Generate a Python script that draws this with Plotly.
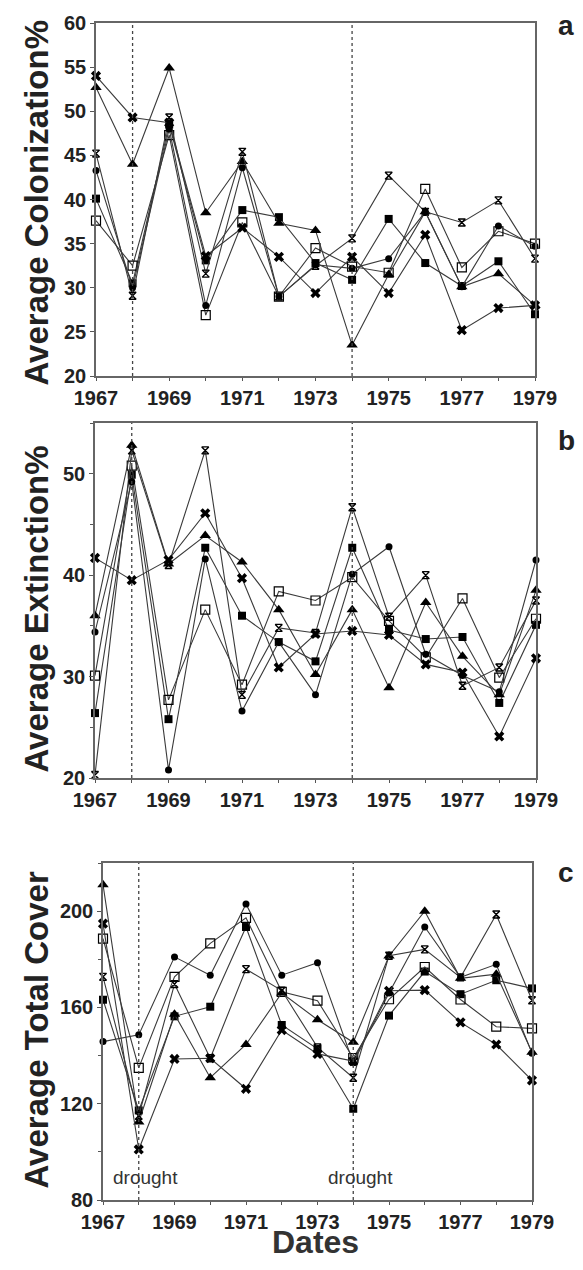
import plotly.graph_objects as go

years = list(range(1967, 1980))
series_names = ["filled square", "open square", "triangle", "asterisk", "bowtie", "circle"]

# Panel a: Average Colonization%
col_fsq = [40.1, 30.5, 48.5, 33.1, 38.8, 38.0, 32.8, 30.9, 37.8, 32.8, 30.2, 33.0, 27.0]
col_osq = [37.6, 32.5, 47.3, 26.9, 37.4, 29.0, 34.5, 32.4, 31.7, 41.2, 32.3, 36.4, 35.0]
col_tri = [52.7, 44.0, 54.9, 38.5, 44.3, 37.3, 36.5, 23.5, 31.5, 38.6, 30.1, 31.6, 28.0]
col_ast = [45.2, 29.1, 49.3, 31.6, 45.4, 29.0, 32.5, 35.6, 42.7, 38.6, 37.4, 39.9, 33.3]
col_bow = [54.0, 49.3, 48.7, 33.6, 36.8, 33.5, 29.4, 33.5, 29.4, 36.0, 25.2, 27.7, 28.0]
col_cir = [43.3, 30.0, 48.0, 28.0, 43.6, 29.0, 32.6, 32.2, 33.3, 38.6, 30.1, 37.0, 34.7]

# Panel b: Average Extinction%
ext_fsq = [26.4, 49.9, 25.8, 42.7, 36.0, 33.4, 31.5, 42.7, 34.6, 33.7, 33.9, 27.4, 35.1]
ext_osq = [30.1, 50.8, 27.7, 36.6, 29.2, 38.4, 37.5, 39.8, 35.5, 31.9, 37.7, 29.9, 35.7]
ext_tri = [36.0, 52.8, 41.1, 43.9, 41.3, 36.6, 30.2, 36.6, 28.9, 37.3, 32.0, 28.2, 38.5]
ext_ast = [20.3, 52.3, 41.0, 52.3, 28.2, 34.8, 34.3, 46.7, 35.9, 40.0, 29.1, 30.9, 37.5]
ext_bow = [41.7, 39.5, 41.5, 46.1, 39.7, 30.9, 34.2, 34.5, 34.1, 31.2, 30.4, 24.1, 31.8]
ext_cir = [34.4, 49.2, 20.8, 41.6, 26.6, 33.4, 28.2, 40.1, 42.8, 32.2, 30.1, 28.5, 41.5]

# Panel c: Average Total Cover
cov_fsq = [163.2, 117.2, 156.3, 160.3, 193.4, 152.7, 142.8, 117.9, 156.6, 174.9, 165.5, 171.3, 167.9]
cov_osq = [188.6, 134.9, 172.7, 186.6, 197.2, 166.5, 162.8, 139.0, 163.4, 176.8, 163.3, 152.0, 151.3]
cov_tri = [211.0, 112.4, 157.2, 130.8, 144.6, 166.0, 154.9, 145.5, 181.4, 200.0, 172.1, 173.8, 141.4]
cov_ast = [172.7, 115.0, 169.7, 138.9, 175.9, 167.0, 143.4, 130.8, 181.5, 184.1, 172.5, 198.6, 163.0]
cov_bow = [194.8, 101.0, 138.6, 138.9, 126.2, 150.6, 140.7, 137.7, 166.9, 167.2, 153.8, 144.6, 129.7]
cov_cir = [145.8, 148.6, 181.0, 173.4, 203.0, 173.4, 178.6, 137.0, 166.0, 193.4, 172.5, 177.9, 141.0]

drought_years = [1968, 1974]
x_ticktext = [str(y) if y % 2 == 1 else "" for y in years]

# page is 583x1270 with an 8px body margin; keep the page free of scrollbars
OFF = 8
W, H = 575, 1254
FONT = "Liberation Sans"
LINE = "#3a3a3a"


def fx(px):
    return (px - OFF) / W


def fy(py):
    return 1 - (py - OFF) / H


marker_styles = [
    dict(symbol="square", size=8, color="black"),
    dict(symbol="square-open", size=9, color="black", line=dict(width=1.2)),
    dict(symbol="triangle-up", size=10, color="black"),
    dict(symbol="hourglass-open", size=7, color="black", line=dict(width=1.4)),
    dict(symbol="x", size=9, color="black", line=dict(width=0)),
    dict(symbol="circle", size=7, color="black"),
]

panels = [
    dict(data=[col_fsq, col_osq, col_tri, col_ast, col_bow, col_cir],
         px=(96, 535), py=(23, 376), yr=[20, 60], tickvals=list(range(20, 61, 5)), minor=None,
         title="Average Colonization%", title_y=(13, 392), letter="a", letter_y=25),
    dict(data=[ext_fsq, ext_osq, ext_tri, ext_ast, ext_bow, ext_cir],
         px=(95, 536), py=(423, 778), yr=[20, 55], tickvals=[20, 30, 40, 50], minor=5,
         title="Average Extinction%", title_y=(437, 782), letter="b", letter_y=440),
    dict(data=[cov_fsq, cov_osq, cov_tri, cov_ast, cov_bow, cov_cir],
         px=(103, 532), py=(863, 1200), yr=[80, 220], tickvals=[80, 120, 160, 200], minor=20,
         title="Average Total Cover", title_y=(846, 1215), letter="c", letter_y=873),
]

fig = go.Figure()
layout = dict(width=W, height=H, margin=dict(l=0, r=0, t=0, b=0, autoexpand=False),
              paper_bgcolor="white", plot_bgcolor="white", showlegend=False)
annotations = []
shapes = []

for i, p in enumerate(panels):
    k = "" if i == 0 else str(i + 1)
    xa, ya = "x" + k, "y" + k
    for name, vals, ms in zip(series_names, p["data"], marker_styles):
        fig.add_trace(go.Scatter(x=years, y=vals, mode="lines+markers", name=name,
                                 line=dict(color=LINE, width=1.1), marker=ms,
                                 cliponaxis=False, xaxis=xa, yaxis=ya))
    xdom = [fx(p["px"][0]), fx(p["px"][1])]
    ydom = [fy(p["py"][1]), fy(p["py"][0])]
    layout["xaxis" + k] = dict(domain=xdom, anchor=ya, range=[1967, 1979], automargin=False,
                               tickvals=years, ticktext=x_ticktext, ticks="outside",
                               ticklen=3, tickcolor="#555", showline=True, linecolor="#666",
                               linewidth=1.5, mirror=True, showgrid=False, zeroline=False,
                               tickfont=dict(family=FONT, size=20, color="#222", weight="bold"))
    yax = dict(domain=ydom, anchor=xa, range=p["yr"], tickvals=p["tickvals"], automargin=False,
               ticks="outside", ticklen=4, tickcolor="#555", showline=True,
               linecolor="#666", linewidth=1.5, mirror=True, showgrid=False, zeroline=False,
               tickfont=dict(family=FONT, size=20, color="#222", weight="bold"))
    if p["minor"]:
        yax["minor"] = dict(dtick=p["minor"], ticks="outside", ticklen=3, tickcolor="#555",
                            showgrid=False)
    layout["yaxis" + k] = yax
    for dy in drought_years:
        shapes.append(dict(type="line", xref=xa, yref=ya + " domain", x0=dy, x1=dy, y0=0, y1=1,
                           line=dict(color="#444", width=1.3, dash="dot")))
    ty = fy((p["title_y"][0] + p["title_y"][1]) / 2)
    annotations.append(dict(text=p["title"], x=fx(36), y=ty, xref="paper", yref="paper",
                            textangle=-90, showarrow=False, xanchor="center", yanchor="middle",
                            font=dict(family=FONT, size=33, color="#222", weight="bold")))
    annotations.append(dict(text=p["letter"], x=fx(566), y=fy(p["letter_y"]),
                            xref="paper", yref="paper", showarrow=False,
                            xanchor="center", yanchor="middle",
                            font=dict(family=FONT, size=28, color="#222", weight="bold")))

for dy in drought_years:
    annotations.append(dict(text="drought", x=dy + 0.2, y=89.5, xref="x3", yref="y3",
                            showarrow=False, xanchor="center", yanchor="middle",
                            font=dict(family=FONT, size=19, color="#333")))

annotations.append(dict(text="Dates", x=fx(315), y=fy(1242), xref="paper", yref="paper",
                        showarrow=False, xanchor="center", yanchor="middle",
                        font=dict(family=FONT, size=32, color="#333", weight="bold")))

layout["annotations"] = annotations
layout["shapes"] = shapes
fig.update_layout(**layout)
fig.write_html("out.html")
